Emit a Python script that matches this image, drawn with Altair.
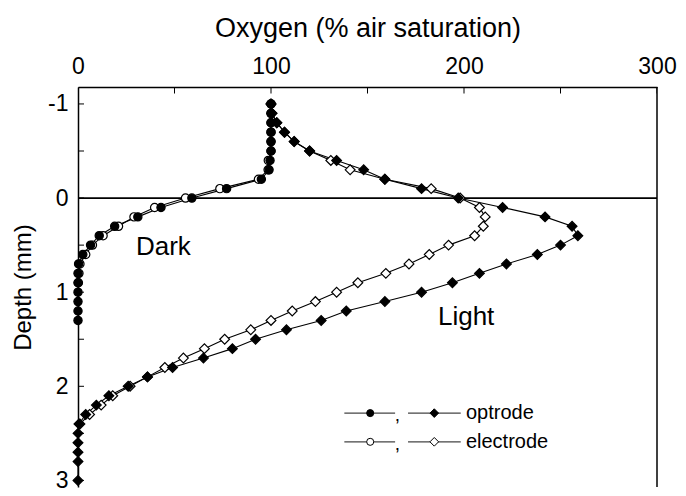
import altair as alt
import pandas as pd

FONT = "Liberation Sans"

# ---------------- data ----------------
dark_optrode_depth = [-1.0, -0.9, -0.8, -0.7, -0.6, -0.5, -0.4, -0.3, -0.2, -0.1,
                      0.0, 0.1, 0.2, 0.3, 0.4, 0.5, 0.6, 0.7, 0.8, 0.9,
                      1.0, 1.1, 1.2, 1.3]
dark_optrode_o2 = [100, 100, 100, 100, 100, 100, 99.5, 99, 95, 77,
                   59, 43, 31, 19, 11, 6.5, 2.5, 0.3, 0, 0,
                   0, 0, 0, 0]

dark_electrode_depth = [-1.0, -0.9, -0.8, -0.7, -0.6, -0.5, -0.4, -0.3, -0.2, -0.1,
                        0.0, 0.1, 0.2, 0.3, 0.4, 0.5, 0.6, 0.7, 0.8, 0.9]
dark_electrode_o2 = [100, 100, 100, 100, 100, 100, 98.6, 98.5, 93.5, 73.5,
                     55.7, 39.7, 29, 21, 13, 7.5, 4, 1, 0.5, 0.2]

light_optrode_depth = [-1.0, -0.9, -0.8, -0.7, -0.6, -0.5, -0.4, -0.3, -0.2, -0.1,
                       0.0, 0.1, 0.2, 0.3, 0.4, 0.5, 0.6, 0.7, 0.8, 0.9,
                       1.0, 1.1, 1.2, 1.3, 1.4, 1.5, 1.6, 1.7, 1.8, 1.9,
                       2.0, 2.1, 2.2, 2.3, 2.4, 2.5, 2.6, 2.7, 2.8, 3.0]
light_optrode_o2 = [100, 100.5, 103, 107, 112, 120, 134, 148, 159, 178,
                    197, 220, 242, 256, 259, 250, 238, 222, 208, 194,
                    178, 159, 139, 126, 108, 92, 80, 65, 49, 36,
                    26, 16, 9.5, 4, 0.5, 0, 0, 0, 0, 0]

light_electrode_depth = [-1.0, -0.9, -0.8, -0.7, -0.6, -0.5, -0.4, -0.3, -0.2, -0.1,
                         0.0, 0.1, 0.2, 0.3, 0.4, 0.5, 0.6, 0.7, 0.8, 0.9,
                         1.0, 1.1, 1.2, 1.3, 1.4, 1.5, 1.6, 1.7, 1.8, 1.9,
                         2.0, 2.1, 2.2, 2.3, 2.4]
light_electrode_o2 = [100, 100.5, 103, 107, 112, 120, 131, 141, 159, 183,
                      198, 208, 211, 210, 205.5, 192, 182, 171.5, 159.5, 145,
                      134, 123, 111, 100, 89.5, 76, 65.5, 54.6, 45, 36,
                      27, 18, 12, 6, 1]

# axis ticks / labels
x_tick_values = [0, 50, 100, 150, 200, 250, 300]
x_label_values = [0, 100, 200, 300]
y_tick_values = [-1, -0.5, 0, 0.5, 1, 1.5, 2, 2.5, 3]
y_label_values = [-1, 0, 1, 2, 3]
x_domain = [0, 300]
y_domain = [-1.18, 3.07]

# annotations
profile_labels = ["Dark", "Light"]
profile_label_x = [30.0, 186.5]
profile_label_y = [0.52, 1.26]

legend_labels = ["optrode", "electrode"]
legend_row_y = [2.285, 2.59]
legend_fill = ["black", "white"]
legend_seg1 = [138.0, 164.3]
legend_seg2 = [171.0, 198.3]
legend_mark1_x = 151.4
legend_mark2_x = 184.6
legend_comma_x = 165.5
legend_text_x = 201.0


def frame(depth, o2, profile, method):
    return pd.DataFrame({"depth": depth, "o2": o2, "profile": profile,
                         "method": method, "series": profile + " " + method})


df = pd.concat([
    frame(dark_electrode_depth, dark_electrode_o2, "Dark", "electrode"),
    frame(light_electrode_depth, light_electrode_o2, "Light", "electrode"),
    frame(dark_optrode_depth, dark_optrode_o2, "Dark", "optrode"),
    frame(light_optrode_depth, light_optrode_o2, "Light", "optrode"),
], ignore_index=True)

xs = alt.Scale(domain=x_domain, nice=False, zero=False)
ys = alt.Scale(domain=y_domain, nice=False, zero=False, reverse=True)

x_axis = alt.Axis(orient="top", values=x_label_values, title="Oxygen (% air saturation)",
                  ticks=False, grid=False, domainColor="black", domainWidth=1.5,
                  labelFlush=False, labelFontSize=23, titleFontSize=27,
                  labelPadding=9, titlePadding=13, labelFont=FONT, titleFont=FONT,
                  titleFontWeight="normal", labelColor="black", titleColor="black")
y_axis = alt.Axis(values=y_label_values, title="Depth (mm)", ticks=False, grid=False,
                  domainColor="black", domainWidth=1.5, labelFlush=False,
                  labelExpr="datum.value + ''", labelFontSize=23, titleFontSize=24,
                  labelPadding=10, titlePadding=12, labelFont=FONT, titleFont=FONT,
                  titleFontWeight="normal", labelColor="black", titleColor="black")


def X(field):
    return alt.X(field, type="quantitative", scale=xs, axis=x_axis)


def Y(field):
    return alt.Y(field, type="quantitative", scale=ys, axis=y_axis)


def XD(v):
    return alt.XDatum(v, scale=xs, axis=x_axis)


def YD(v):
    return alt.YDatum(v, scale=ys, axis=y_axis)


lines = alt.Chart(df).mark_line(color="black", strokeWidth=1.1).encode(
    x=X("o2"), y=Y("depth"), detail="series:N", order="depth:Q")


def points(method, size_c, size_d):
    sub = df[df["method"] == method]
    base = alt.Chart(sub)
    fill = "black" if method == "optrode" else "white"
    c = base.transform_filter(alt.datum.profile == "Dark").mark_point(
        filled=True, shape="circle", size=size_c, stroke="black", strokeWidth=1.2, opacity=1,
        fill=fill).encode(x=X("o2"), y=Y("depth"))
    d = base.transform_filter(alt.datum.profile == "Light").mark_point(
        filled=True, shape="diamond", size=size_d, stroke="black", strokeWidth=1.2, opacity=1,
        fill=fill).encode(x=X("o2"), y=Y("depth"))
    return [c, d]


zero_line = alt.Chart(pd.DataFrame({"depth": [0]})).mark_rule(color="black", strokeWidth=1.8).encode(
    y=Y("depth"), x=XD(x_domain[0]), x2=alt.datum(x_domain[1]))

right_border = alt.Chart(pd.DataFrame({"o2": [x_domain[1]]})).mark_rule(color="black", strokeWidth=1.5).encode(
    x=X("o2"), y=YD(y_domain[0]), y2=alt.datum(y_domain[1]))

y_ticks = alt.Chart(pd.DataFrame({"depth": y_tick_values})).mark_tick(
    orient="horizontal", size=12, thickness=1, color="black", clip=True, opacity=1).encode(
    y=Y("depth"), x=XD(x_domain[0]))

x_ticks = alt.Chart(pd.DataFrame({"o2": x_tick_values})).mark_tick(
    orient="vertical", size=13, thickness=1, color="black", clip=True, opacity=1).encode(
    x=X("o2"), y=YD(y_domain[0]))

labels = alt.Chart(pd.DataFrame({"t": profile_labels, "o2": profile_label_x, "depth": profile_label_y})).mark_text(
    align="left", baseline="middle", fontSize=26, font=FONT, color="black").encode(
    x=X("o2"), y=Y("depth"), text="t:N")

# legend (drawn in data space)
leg = pd.DataFrame({"label": legend_labels, "depth": legend_row_y, "fill": legend_fill})
leg_segs = pd.concat([
    leg.assign(o2=legend_seg1[0], x2=legend_seg1[1]),
    leg.assign(o2=legend_seg2[0], x2=legend_seg2[1]),
], ignore_index=True)
leg_lines = alt.Chart(leg_segs).mark_rule(color="#444444", strokeWidth=1.2).encode(
    x=X("o2"), x2="x2:Q", y=Y("depth"))
leg_circ = alt.Chart(leg.assign(o2=legend_mark1_x)).mark_point(
    filled=True, shape="circle", size=50, stroke="black", strokeWidth=1, opacity=1).encode(
    x=X("o2"), y=Y("depth"), fill=alt.Fill("fill:N", scale=None))
leg_diam = alt.Chart(leg.assign(o2=legend_mark2_x)).mark_point(
    filled=True, shape="diamond", size=75, stroke="black", strokeWidth=1, opacity=1).encode(
    x=X("o2"), y=Y("depth"), fill=alt.Fill("fill:N", scale=None))
leg_comma = alt.Chart(leg.assign(o2=legend_comma_x, c=",")).mark_text(
    align="center", baseline="middle", fontSize=19, font=FONT, color="black", dy=2).encode(
    x=X("o2"), y=Y("depth"), text="c:N")
leg_text = alt.Chart(leg.assign(o2=legend_text_x)).mark_text(
    align="left", baseline="middle", fontSize=20, font=FONT, color="black").encode(
    x=X("o2"), y=Y("depth"), text="label:N")

chart = alt.layer(
    lines, zero_line, right_border, y_ticks, x_ticks,
    *points("electrode", 68, 95), *points("optrode", 68, 95),
    labels, leg_lines, leg_circ, leg_diam, leg_comma, leg_text,
).properties(
    width=579, height=400,
    autosize=alt.AutoSizeParams(type="none"),
    padding={"left": 70, "top": 79, "right": 21, "bottom": 8},
    background="white",
).configure_view(stroke=None)

chart.save("out.html", embed_options={"renderer": "svg", "actions": False})
